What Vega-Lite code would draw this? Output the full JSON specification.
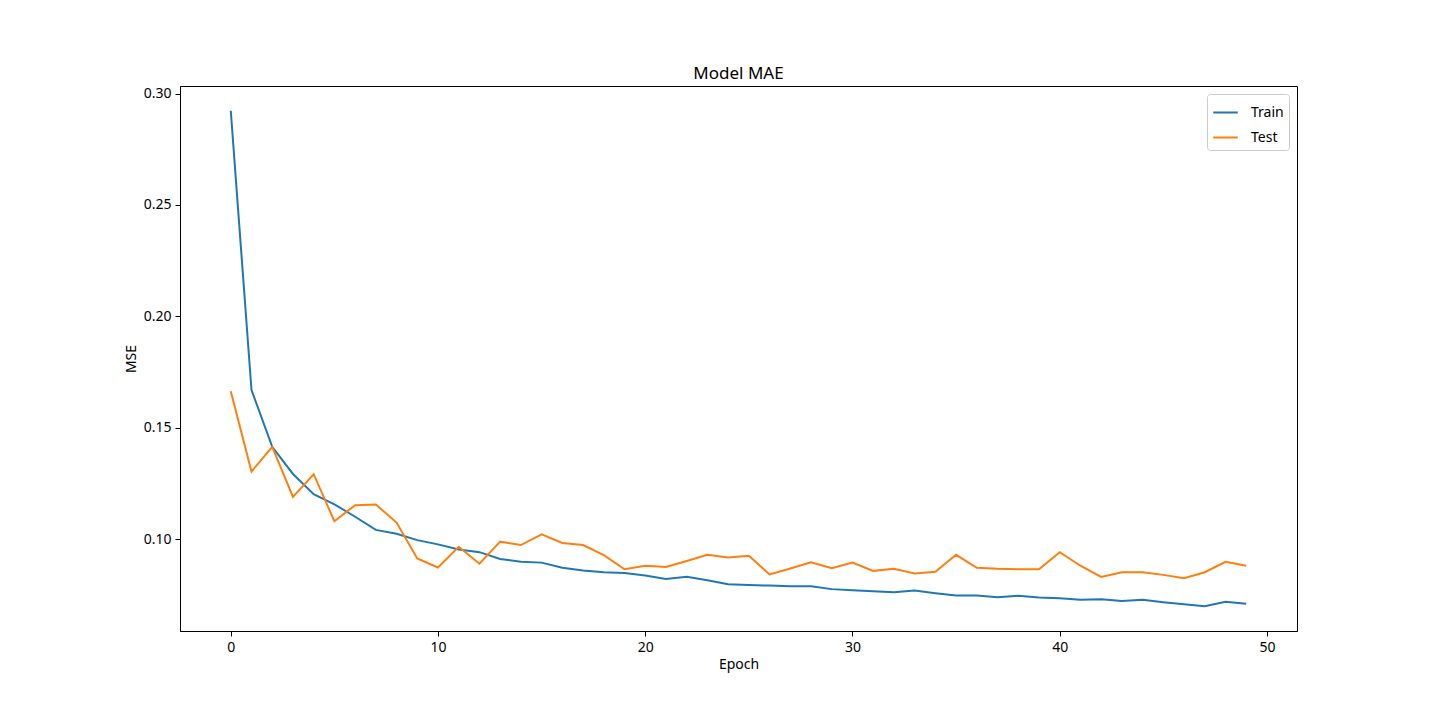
{
  "$schema": "https://vega.github.io/schema/vega-lite/v6.json",
  "width": 1117,
  "height": 545,
  "autosize": {"type": "none"},
  "padding": {"left": 180, "top": 86, "right": 143, "bottom": 89},
  "background": "white",
  "config": {
    "font": "Noto Sans",
    "view": {"stroke": "black", "strokeWidth": 1},
    "axis": {"grid": false, "domainColor": "black", "tickColor": "black", "tickSize": 5, "labelColor": "black", "titleColor": "black", "labelFontSize": 14, "titleFontSize": 14, "titleFontWeight": "normal", "labelFont": "Noto Sans", "titleFont": "Noto Sans", "labelPadding": 4}
  },
  "title": {"text": "Model MAE", "fontSize": 17, "fontWeight": "normal", "font": "Noto Sans", "color": "black", "offset": 3},
  "data": {"values": [
    {"epoch":0,"s":"Train","v":0.2923},{"epoch":1,"s":"Train","v":0.1669},{"epoch":2,"s":"Train","v":0.1414},{"epoch":3,"s":"Train","v":0.1292},{"epoch":4,"s":"Train","v":0.1201},{"epoch":5,"s":"Train","v":0.1156},{"epoch":6,"s":"Train","v":0.1100},{"epoch":7,"s":"Train","v":0.1041},{"epoch":8,"s":"Train","v":0.1024},{"epoch":9,"s":"Train","v":0.0995},
    {"epoch":10,"s":"Train","v":0.0976},{"epoch":11,"s":"Train","v":0.0953},{"epoch":12,"s":"Train","v":0.0941},{"epoch":13,"s":"Train","v":0.0910},{"epoch":14,"s":"Train","v":0.0898},{"epoch":15,"s":"Train","v":0.0894},{"epoch":16,"s":"Train","v":0.0871},{"epoch":17,"s":"Train","v":0.0859},{"epoch":18,"s":"Train","v":0.0851},{"epoch":19,"s":"Train","v":0.0847},
    {"epoch":20,"s":"Train","v":0.0836},{"epoch":21,"s":"Train","v":0.0821},{"epoch":22,"s":"Train","v":0.0830},{"epoch":23,"s":"Train","v":0.0815},{"epoch":24,"s":"Train","v":0.0797},{"epoch":25,"s":"Train","v":0.0793},{"epoch":26,"s":"Train","v":0.0791},{"epoch":27,"s":"Train","v":0.0788},{"epoch":28,"s":"Train","v":0.0788},{"epoch":29,"s":"Train","v":0.0775},
    {"epoch":30,"s":"Train","v":0.0770},{"epoch":31,"s":"Train","v":0.0766},{"epoch":32,"s":"Train","v":0.0761},{"epoch":33,"s":"Train","v":0.0769},{"epoch":34,"s":"Train","v":0.0757},{"epoch":35,"s":"Train","v":0.0746},{"epoch":36,"s":"Train","v":0.0746},{"epoch":37,"s":"Train","v":0.0739},{"epoch":38,"s":"Train","v":0.0745},{"epoch":39,"s":"Train","v":0.0737},
    {"epoch":40,"s":"Train","v":0.0734},{"epoch":41,"s":"Train","v":0.0727},{"epoch":42,"s":"Train","v":0.0730},{"epoch":43,"s":"Train","v":0.0722},{"epoch":44,"s":"Train","v":0.0727},{"epoch":45,"s":"Train","v":0.0716},{"epoch":46,"s":"Train","v":0.0707},{"epoch":47,"s":"Train","v":0.0698},{"epoch":48,"s":"Train","v":0.0718},{"epoch":49,"s":"Train","v":0.0709},
    {"epoch":0,"s":"Test","v":0.1664},{"epoch":1,"s":"Test","v":0.1303},{"epoch":2,"s":"Test","v":0.1414},{"epoch":3,"s":"Test","v":0.1189},{"epoch":4,"s":"Test","v":0.1291},{"epoch":5,"s":"Test","v":0.1080},{"epoch":6,"s":"Test","v":0.1152},{"epoch":7,"s":"Test","v":0.1155},{"epoch":8,"s":"Test","v":0.1074},{"epoch":9,"s":"Test","v":0.0913},
    {"epoch":10,"s":"Test","v":0.0872},{"epoch":11,"s":"Test","v":0.0965},{"epoch":12,"s":"Test","v":0.0889},{"epoch":13,"s":"Test","v":0.0988},{"epoch":14,"s":"Test","v":0.0973},{"epoch":15,"s":"Test","v":0.1021},{"epoch":16,"s":"Test","v":0.0982},{"epoch":17,"s":"Test","v":0.0973},{"epoch":18,"s":"Test","v":0.0928},{"epoch":19,"s":"Test","v":0.0864},
    {"epoch":20,"s":"Test","v":0.0880},{"epoch":21,"s":"Test","v":0.0874},{"epoch":22,"s":"Test","v":0.0901},{"epoch":23,"s":"Test","v":0.0929},{"epoch":24,"s":"Test","v":0.0917},{"epoch":25,"s":"Test","v":0.0925},{"epoch":26,"s":"Test","v":0.0841},{"epoch":27,"s":"Test","v":0.0868},{"epoch":28,"s":"Test","v":0.0895},{"epoch":29,"s":"Test","v":0.0869},
    {"epoch":30,"s":"Test","v":0.0894},{"epoch":31,"s":"Test","v":0.0857},{"epoch":32,"s":"Test","v":0.0866},{"epoch":33,"s":"Test","v":0.0845},{"epoch":34,"s":"Test","v":0.0853},{"epoch":35,"s":"Test","v":0.0929},{"epoch":36,"s":"Test","v":0.0871},{"epoch":37,"s":"Test","v":0.0866},{"epoch":38,"s":"Test","v":0.0864},{"epoch":39,"s":"Test","v":0.0864},
    {"epoch":40,"s":"Test","v":0.0941},{"epoch":41,"s":"Test","v":0.0880},{"epoch":42,"s":"Test","v":0.0830},{"epoch":43,"s":"Test","v":0.0851},{"epoch":44,"s":"Test","v":0.0851},{"epoch":45,"s":"Test","v":0.0839},{"epoch":46,"s":"Test","v":0.0824},{"epoch":47,"s":"Test","v":0.0851},{"epoch":48,"s":"Test","v":0.0898},{"epoch":49,"s":"Test","v":0.0880}
  ]},
  "mark": {"type": "line", "strokeWidth": 2, "clip": true},
  "encoding": {
    "x": {"field": "epoch", "type": "quantitative", "title": "Epoch",
      "scale": {"domain": [-2.45, 51.45], "nice": false, "zero": false},
      "axis": {"values": [0, 10, 20, 30, 40, 50], "format": "d", "titlePadding": 3}},
    "y": {"field": "v", "type": "quantitative", "title": "MSE",
      "scale": {"domain": [0.0587, 0.3034], "nice": false, "zero": false},
      "axis": {"values": [0.10, 0.15, 0.20, 0.25, 0.30], "format": ".2f", "titlePadding": 5}},
    "color": {"field": "s", "type": "nominal", "title": null,
      "scale": {"domain": ["Train", "Test"], "range": ["#1f77b4", "#ff7f0e"]},
      "legend": {"orient": "none", "legendX": 1027, "legendY": 8, "symbolType": "stroke", "symbolSize": 600, "symbolStrokeWidth": 2, "labelFontSize": 14, "labelFont": "Noto Sans", "labelColor": "black", "strokeColor": "#cccccc", "fillColor": "white", "cornerRadius": 3, "padding": 5, "rowPadding": 4, "labelOffset": 12}}
  }
}
